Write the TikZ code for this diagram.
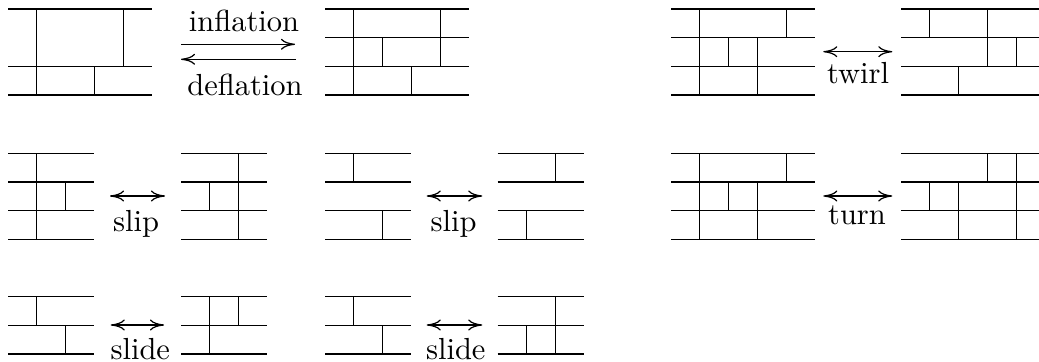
\documentclass[tikz,border=0pt]{standalone}
\usetikzlibrary{arrows.meta}
\begin{document}
\begin{tikzpicture}[x=0.328pt,y=-0.328pt,
    wall/.style={line width=0.4pt},
    move/.style={line width=0.4pt,>={Computer Modern Rightarrow[length=4.6pt,width=3.6pt]}},
    lbl/.style={anchor=base,inner sep=0pt,font=\normalsize},
    grid/.style={xscale=28.8,yscale=28.7}]
  \useasboundingbox (0,0) rectangle (1039,362);

  % ---- top row: inflation / deflation ----
  \begin{scope}[shift={(8,9)},grid]
    \foreach \k in {0,2,3} \draw[wall] (0,\k) -- (5,\k);
    \draw[wall] (1,0) -- (1,3) (4,0) -- (4,2) (3,2) -- (3,3);
  \end{scope}
  \begin{scope}[shift={(325,9)},grid]
    \foreach \k in {0,1,2,3} \draw[wall] (0,\k) -- (5,\k);
    \draw[wall] (1,0) -- (1,3) (4,0) -- (4,2) (2,1) -- (2,2) (3,2) -- (3,3);
  \end{scope}
  \coordinate (infA) at (181,44.3);
  \coordinate (infB) at (295,44.3);
  \coordinate (defA) at (296,59.3);
  \coordinate (defB) at (181,59.3);
  \draw[move,->] (infA) -- (infB);
  \draw[move,->] (defA) -- (defB);
  \node[lbl] (inflation) at (244,31.7) {inflation};
  \node[lbl] (deflation) at (245,95.7) {deflation};

  % ---- twirl ----
  \begin{scope}[shift={(671,9)},grid]
    \foreach \k in {0,1,2,3} \draw[wall] (0,\k) -- (5,\k);
    \draw[wall] (1,0) -- (1,3) (4,0) -- (4,1) (2,1) -- (2,2) (3,1) -- (3,3);
  \end{scope}
  \begin{scope}[shift={(901,9)},grid]
    \foreach \k in {0,1,2,3} \draw[wall] (0,\k) -- (5,\k);
    \draw[wall] (1,0) -- (1,1) (3,0) -- (3,2) (4,1) -- (4,2) (2,2) -- (2,3);
  \end{scope}
  \coordinate (twA) at (823.3,51.7);
  \coordinate (twB) at (892.3,51.7);
  \draw[move,<->] (twA) -- (twB);
  \node[lbl] (twirl) at (858,84) {twirl};

  % ---- middle row: slips ----
  \begin{scope}[shift={(8,153.3)},grid]
    \foreach \k in {0,1,2,3} \draw[wall] (0,\k) -- (3,\k);
    \draw[wall] (1,0) -- (1,3) (2,1) -- (2,2);
  \end{scope}
  \begin{scope}[shift={(181,153.3)},grid]
    \foreach \k in {0,1,2,3} \draw[wall] (0,\k) -- (3,\k);
    \draw[wall] (2,0) -- (2,3) (1,1) -- (1,2);
  \end{scope}
  \coordinate (slA) at (110,196);
  \coordinate (slB) at (165,196);
  \draw[move,<->] (slA) -- (slB);
  \node[lbl] (slip1) at (136,231.7) {slip};

  \begin{scope}[shift={(325,153.3)},grid]
    \foreach \k in {0,1,2,3} \draw[wall] (0,\k) -- (3,\k);
    \draw[wall] (1,0) -- (1,1) (2,2) -- (2,3);
  \end{scope}
  \begin{scope}[shift={(497.7,153.3)},grid]
    \foreach \k in {0,1,2,3} \draw[wall] (0,\k) -- (3,\k);
    \draw[wall] (2,0) -- (2,1) (1,2) -- (1,3);
  \end{scope}
  \coordinate (slC) at (426.7,196);
  \coordinate (slD) at (482.3,196);
  \draw[move,<->] (slC) -- (slD);
  \node[lbl] (slip2) at (453.5,231.7) {slip};

  % ---- turn ----
  \begin{scope}[shift={(671,153.3)},grid]
    \foreach \k in {0,1,2,3} \draw[wall] (0,\k) -- (5,\k);
    \draw[wall] (1,0) -- (1,3) (4,0) -- (4,1) (2,1) -- (2,2) (3,1) -- (3,3);
  \end{scope}
  \begin{scope}[shift={(901,153.3)},grid]
    \foreach \k in {0,1,2,3} \draw[wall] (0,\k) -- (5,\k);
    \draw[wall] (3,0) -- (3,1) (4,0) -- (4,3) (1,1) -- (1,2) (2,1) -- (2,3);
  \end{scope}
  \coordinate (tuA) at (823.3,196);
  \coordinate (tuB) at (892.3,196);
  \draw[move,<->] (tuA) -- (tuB);
  \node[lbl] (turn) at (857,225) {turn};

  % ---- bottom row: slides ----
  \begin{scope}[shift={(8,296.7)},grid]
    \foreach \k in {0,1,2} \draw[wall] (0,\k) -- (3,\k);
    \draw[wall] (1,0) -- (1,1) (2,1) -- (2,2);
  \end{scope}
  \begin{scope}[shift={(181,296.7)},grid]
    \foreach \k in {0,1,2} \draw[wall] (0,\k) -- (3,\k);
    \draw[wall] (1,0) -- (1,2) (2,0) -- (2,1);
  \end{scope}
  \coordinate (sdA) at (110.7,325);
  \coordinate (sdB) at (164,325);
  \draw[move,<->] (sdA) -- (sdB);
  \node[lbl] (slide1) at (140.3,360) {slide};

  \begin{scope}[shift={(325,296.7)},grid]
    \foreach \k in {0,1,2} \draw[wall] (0,\k) -- (3,\k);
    \draw[wall] (1,0) -- (1,1) (2,1) -- (2,2);
  \end{scope}
  \begin{scope}[shift={(497.7,296.7)},grid]
    \foreach \k in {0,1,2} \draw[wall] (0,\k) -- (3,\k);
    \draw[wall] (2,0) -- (2,2) (1,1) -- (1,2);
  \end{scope}
  \coordinate (sdC) at (426.7,325);
  \coordinate (sdD) at (482.3,325);
  \draw[move,<->] (sdC) -- (sdD);
  \node[lbl] (slide2) at (455.8,360) {slide};
\end{tikzpicture}
\end{document}
